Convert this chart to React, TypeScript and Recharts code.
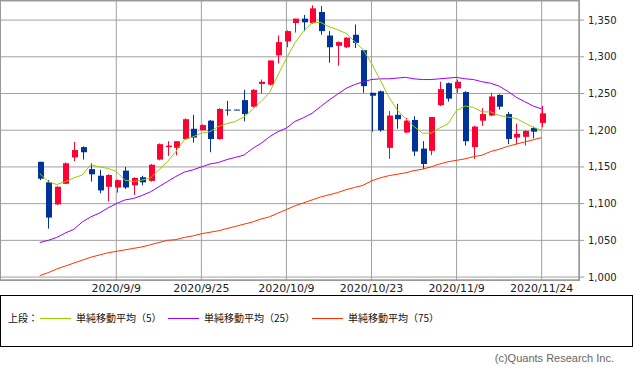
import { ComposedChart, Bar, Line, XAxis, YAxis, CartesianGrid } from "recharts";

const dates = [
  "8/27", "8/28", "8/31", "9/1", "9/2", "9/3", "9/4", "9/7", "9/8", "9/9",
  "9/10", "9/11", "9/14", "9/15", "9/16", "9/17", "9/18", "9/23", "9/24", "9/25",
  "9/28", "9/29", "9/30", "10/1", "10/2", "10/5", "10/6", "10/7", "10/8", "10/9",
  "10/12", "10/13", "10/14", "10/15", "10/16", "10/19", "10/20", "10/21", "10/22", "10/23",
  "10/26", "10/27", "10/28", "10/29", "10/30", "11/2", "11/4", "11/5", "11/6", "11/9",
  "11/10", "11/11", "11/12", "11/13", "11/16", "11/17", "11/18", "11/19", "11/20", "11/24",
];

const open = [
  1157, 1129, 1099, 1127, 1163, 1177, 1147, 1138, 1123, 1122,
  1145, 1125, 1136, 1131, 1160, 1177, 1176, 1188, 1202, 1200,
  1213, 1188, 1228, 1228.1, 1241, 1232, 1263, 1262, 1302, 1321,
  1346, 1352, 1346, 1361, 1329, 1315, 1313, 1330, 1309, 1251,
  1253, 1176, 1221, 1197, 1214, 1175, 1172, 1234, 1264, 1257,
  1252, 1177, 1213, 1220, 1248, 1222, 1190, 1191, 1203, 1210,
];
const high = [
  1157, 1132, 1124, 1156, 1184, 1178, 1155, 1146, 1140, 1133,
  1150, 1136, 1138, 1154, 1182, 1185, 1185, 1216, 1221, 1208,
  1214, 1230, 1240, 1228.3, 1255, 1256, 1269, 1295, 1329, 1336,
  1352, 1357, 1370, 1369, 1335, 1321, 1327, 1344, 1309, 1251,
  1254, 1226, 1236, 1217, 1219, 1185, 1218, 1266, 1265, 1269,
  1253, 1206, 1230, 1251, 1249, 1225, 1209, 1200, 1205, 1233,
];
const low = [
  1132, 1066, 1098, 1127, 1158, 1160, 1130, 1114, 1103, 1115,
  1120, 1112, 1125, 1130, 1159, 1165, 1166, 1187, 1183, 1200,
  1170, 1187, 1220, 1227.7, 1212, 1231, 1250, 1261, 1291, 1313,
  1333, 1335, 1345, 1330, 1292, 1288, 1312, 1312, 1251, 1198,
  1198, 1161, 1202, 1196, 1165, 1147, 1166, 1233, 1239, 1251,
  1179, 1161, 1206, 1219, 1228, 1181, 1181, 1179, 1189, 1204,
];
const close = [
  1134, 1081, 1123, 1155, 1173, 1170, 1140, 1118, 1139, 1132,
  1122, 1135, 1129, 1153, 1181, 1179, 1185, 1215, 1190, 1207,
  1188, 1229, 1227.5, 1227.9, 1222, 1255, 1266, 1295, 1320, 1335,
  1352, 1347, 1366, 1335, 1313, 1320, 1326, 1319, 1260, 1247,
  1200, 1220, 1215, 1213, 1171, 1154, 1218, 1256, 1243, 1266,
  1185, 1205, 1222, 1246, 1232, 1188, 1195, 1199, 1198, 1223,
];

const ma5 = [
  1141, 1130, 1126, 1130, 1135, 1139, 1153, 1150, 1148, 1144,
  1132, 1130, 1132, 1135, 1146, 1157, 1171, 1187, 1191, 1196,
  1198, 1205, 1209, 1212, 1218, 1228, 1239, 1251, 1275, 1298,
  1319, 1335, 1346, 1347, 1341, 1337, 1332, 1321, 1310, 1291,
  1269, 1246, 1228, 1216, 1205, 1196, 1196, 1203, 1209, 1227,
  1233, 1231, 1225, 1225, 1220, 1218, 1216, 1210, 1204, 1200,
];
const ma25 = [
  1047, 1050, 1054, 1060, 1065, 1075, 1082, 1087, 1094, 1100,
  1105, 1107, 1111, 1116, 1123, 1130, 1137, 1143, 1146, 1150,
  1154, 1156, 1160, 1163, 1166, 1175, 1182, 1191, 1198, 1203,
  1212, 1217, 1223, 1232, 1241, 1249, 1257, 1262, 1266, 1269,
  1270, 1270, 1271, 1272, 1270, 1269, 1269, 1270, 1271, 1272,
  1270, 1269, 1266, 1264, 1260, 1253, 1245, 1239, 1233, 1229,
];
const ma75 = [
  1002, 1006, 1011, 1015, 1019, 1023, 1027, 1030, 1033, 1035,
  1037, 1039, 1041, 1044, 1047, 1050, 1051, 1054, 1056, 1059,
  1061, 1063, 1066, 1069, 1072, 1075, 1079, 1082, 1087, 1092,
  1097, 1101, 1105, 1109, 1112, 1115, 1119, 1122, 1125, 1131,
  1135, 1138, 1140, 1142, 1145, 1147, 1150, 1154, 1157, 1159,
  1161, 1164, 1166, 1171, 1174, 1178, 1181, 1184, 1187, 1190,
];

const xTicks = [9, 19, 29, 39, 49, 59];
const yTicks = [1000, 1050, 1100, 1150, 1200, 1250, 1300, 1350];

const UP = "#ff0033";
const DOWN = "#003399";
const GRID = "#a0a0a0";
const AXIS_FONT = "'DejaVu Sans', sans-serif";
const JP_FONT = "'Noto Sans CJK JP', sans-serif";

const data = dates.map((d, i) => ({
  i,
  date: d,
  range: [low[i], high[i]],
  open: open[i],
  high: high[i],
  low: low[i],
  close: close[i],
  ma5: ma5[i],
  ma25: ma25[i],
  ma75: ma75[i],
}));

// candle drawn inside the low..high bar rectangle
function Candle(props: any) {
  const { x, y, width, height, payload } = props;
  if (!payload) return null;
  const top = Math.min(y, y + height);
  const h = Math.abs(height);
  const span = payload.high - payload.low || 1;
  const py = (v: number) => top + ((payload.high - v) / span) * h;
  const color = payload.close > payload.open ? UP : DOWN;
  const c = Math.round(x + width / 2);
  const bTop = py(Math.max(payload.open, payload.close));
  const bBot = py(Math.min(payload.open, payload.close));
  return (
    <g>
      <line x1={c + 0.5} x2={c + 0.5} y1={top} y2={top + h} stroke={color} strokeWidth={1} />
      <rect x={c - 2} y={bTop} width={6} height={Math.max(bBot - bTop, 1)} fill={color} />
    </g>
  );
}

const legendItems = [
  { label: "単純移動平均（5）", color: "#99cc00", lineX: 40, textX: 76 },
  { label: "単純移動平均（25）", color: "#9900ff", lineX: 168, textX: 204 },
  { label: "単純移動平均（75）", color: "#ff3300", lineX: 312, textX: 348 },
];

export default function App() {
  return (
    <div style={{ position: "absolute", left: 0, top: 0, width: 633, height: 373, background: "#fff" }}>
      <ComposedChart width={633} height={300} data={data} margin={{ top: 1, right: 0, left: 0, bottom: 0 }}>
        <CartesianGrid stroke={GRID} strokeWidth={1} />
        <XAxis
          type="number"
          dataKey="i"
          domain={[-4.67, 63.39]}
          ticks={xTicks}
          interval={0}
          height={20}
          tickFormatter={(v) => `2020/${dates[v]}`}
          tickLine={false}
          axisLine={{ stroke: "#999" }}
          tickSize={2}
          tickMargin={2}
          tick={{ fontSize: 11, fill: "#222", fontFamily: AXIS_FONT }}
        />
        <YAxis
          orientation="right"
          domain={[996, 1376]}
          ticks={yTicks}
          width={54}
          interval={0}
          tickFormatter={(v) => Number(v).toLocaleString("en-US")}
          axisLine={{ stroke: "#999" }}
          tickLine={{ stroke: "#999" }}
          tickSize={5}
          tickMargin={4}
          tick={{ fontSize: 10, fill: "#222", fontFamily: AXIS_FONT }}
        />
        <Line type="linear" dataKey="ma75" stroke="#ff3300" strokeWidth={1} dot={false} isAnimationActive={false} />
        <Line type="linear" dataKey="ma25" stroke="#9900ff" strokeWidth={1} dot={false} isAnimationActive={false} />
        <Bar dataKey="range" barSize={7} shape={<Candle />} isAnimationActive={false} />
        <Line type="linear" dataKey="ma5" stroke="#99cc00" strokeWidth={1} dot={false} isAnimationActive={false} />
      </ComposedChart>
      <div
        style={{
          position: "absolute",
          left: 0,
          top: 0,
          width: 580,
          height: 281,
          border: "1px solid #999",
          boxSizing: "border-box",
          pointerEvents: "none",
        }}
      />
      <div
        style={{
          position: "absolute",
          left: 0,
          top: 295,
          width: 633,
          height: 52,
          border: "1px solid #000",
          boxSizing: "border-box",
          fontFamily: JP_FONT,
          fontSize: 10,
          color: "#111",
        }}
      >
        <span style={{ position: "absolute", left: 7, top: 15, lineHeight: "14px", whiteSpace: "nowrap" }}>上段：</span>
        {legendItems.map((it) => (
          <div key={it.label}>
            <div style={{ position: "absolute", left: it.lineX - 1, top: 22, width: 31, height: 1, background: it.color }} />
            <span style={{ position: "absolute", left: it.textX - 1, top: 15, lineHeight: "14px", whiteSpace: "nowrap" }}>
              {it.label}
            </span>
          </div>
        ))}
      </div>
      <div
        style={{
          position: "absolute",
          right: 19,
          top: 351,
          fontFamily: "'Liberation Sans', Arial, sans-serif",
          fontSize: 11,
          lineHeight: "14px",
          color: "#666",
          whiteSpace: "nowrap",
        }}
      >
        (c)Quants Research Inc.
      </div>
    </div>
  );
}
